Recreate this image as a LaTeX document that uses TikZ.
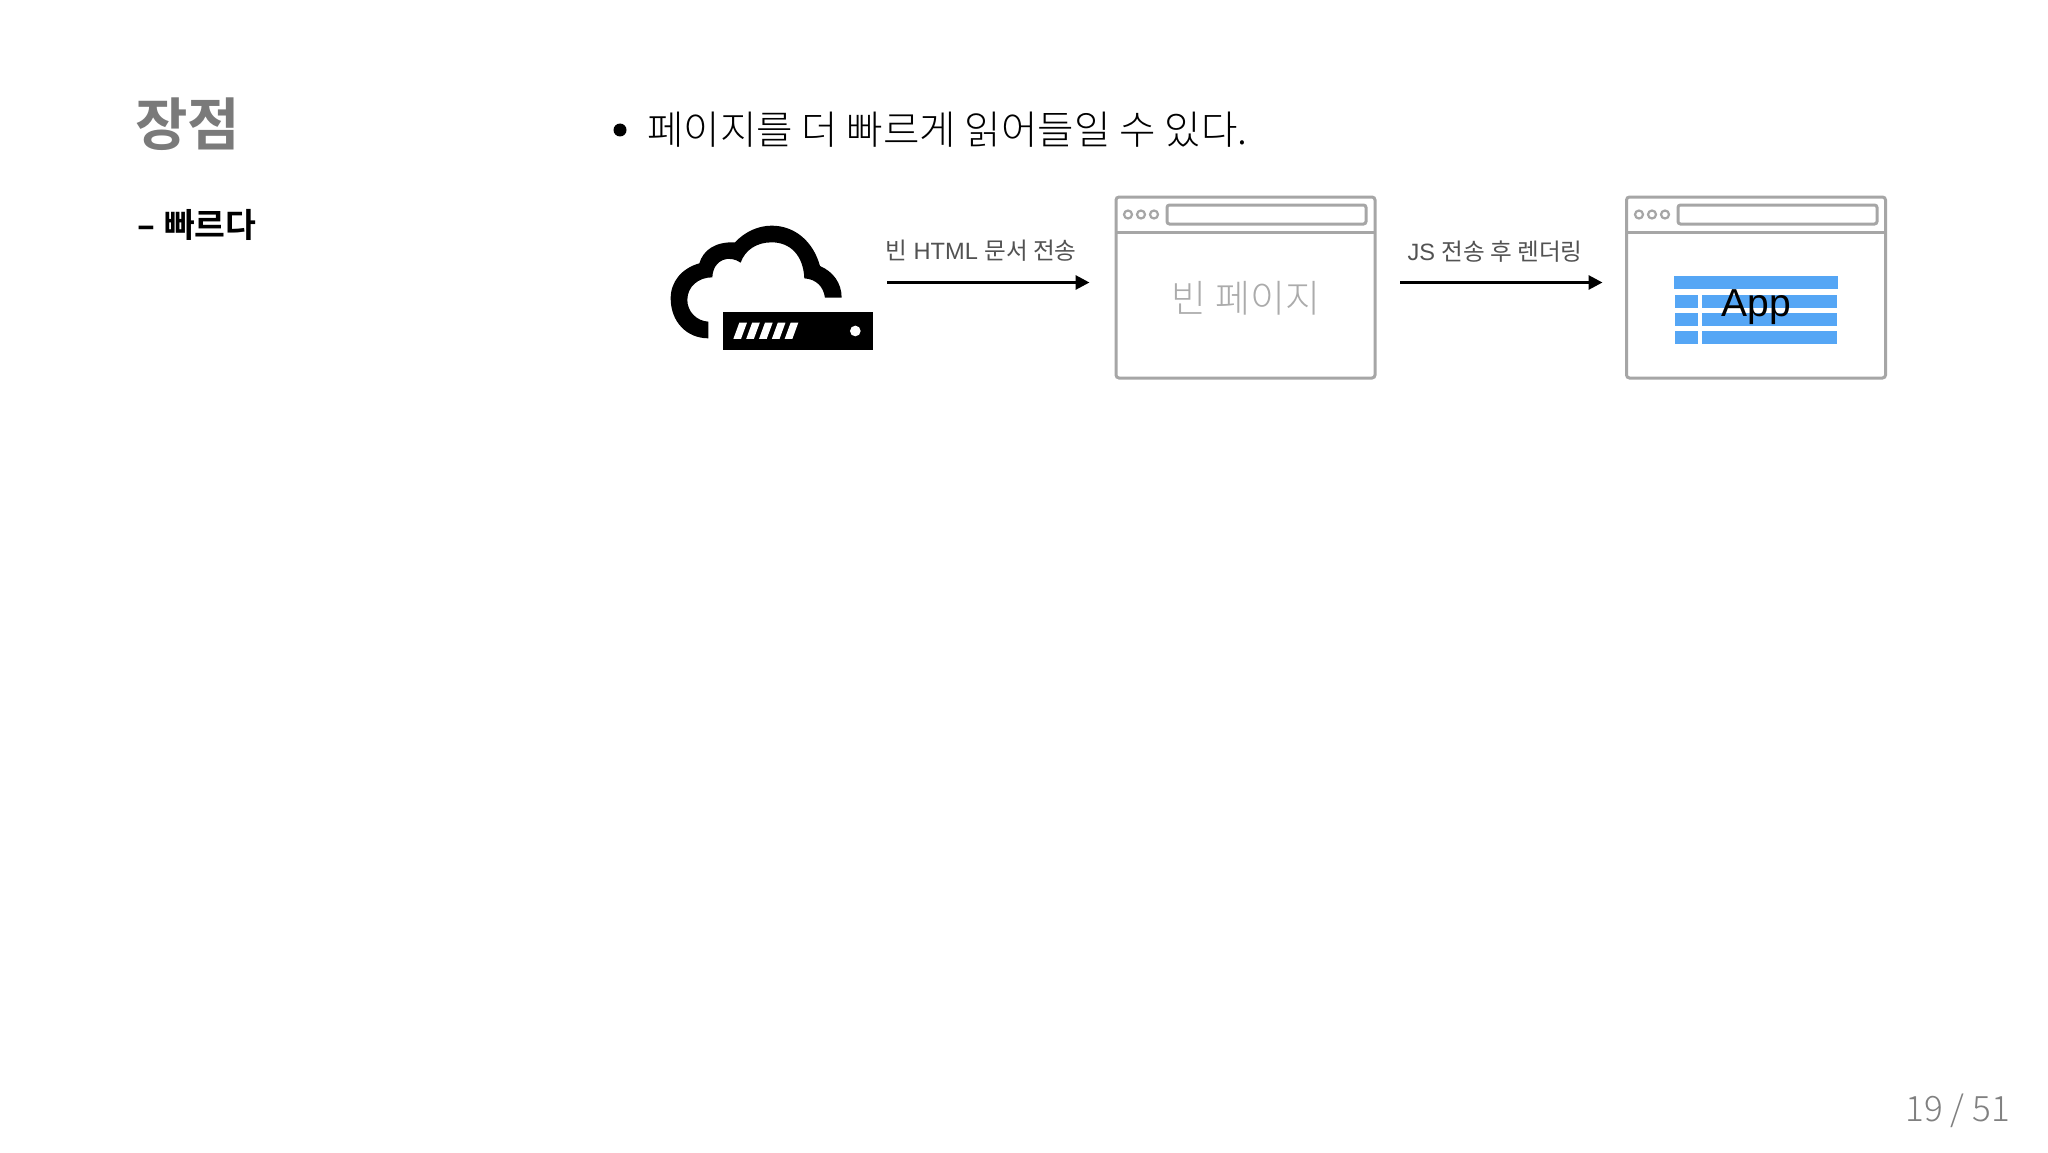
\documentclass[tikz,border=0pt]{standalone}
\usepackage{fontspec}
\usepackage{graphicx}
\usetikzlibrary{arrows.meta}
\newfontfamily\krreg{Noto Sans CJK KR}
\newfontfamily\krbold{Noto Sans CJK KR Bold}
\newfontfamily\krlight{Noto Sans CJK KR Light}
\setmainfont{Liberation Sans}
\definecolor{frame}{HTML}{A6A6A6}
\definecolor{appblue}{HTML}{55A6F5}
\tikzset{
  x=1pt,y=-1pt,
  browser/.style={draw=frame,line width=3pt,rounded corners=3pt,fill=white,inner sep=0pt,outer sep=0pt,minimum width=259pt,minimum height=181pt},
  bar/.style={draw=frame,line width=3pt,rounded corners=2.5pt},
  dotc/.style={draw=frame,line width=2.2pt},
  flow/.style={line width=3pt,-{Triangle[length=14pt,width=14pt]}},
  lbl/.style={inner sep=0pt,font=\fontsize{23.6}{26}\selectfont,text=black!68},
  blue/.style={fill=appblue,draw=none}
}
\newcommand{\browserchrome}[2]{%
  \draw[frame,line width=3pt] (#1.west |- 0,232) -- (#1.east |- 0,232);
  \draw[bar] (#2,205) rectangle ++(199,19);
  \foreach \dx in {-39,-26,-13}{\draw[dotc] (#2+\dx,214.5) circle[radius=4];}
}
\begin{document}
\begin{tikzpicture}
\useasboundingbox (0,0) rectangle (2048,1153);
\fill[white] (0,0) rectangle (2048,1153);
\node[anchor=center,inner sep=0pt,text=black!52,font=\krbold\fontsize{57}{60}\selectfont] (title) at (187.5,124.5) {장점};
\node[anchor=west,inner sep=0pt,font=\krbold\fontsize{33.5}{36}\selectfont] (sub) at (136,224.5) {\scalebox{1.6}[1]{-}\hspace{8pt}빠르다};
\fill (620,130) circle[radius=6.5];
\node[anchor=west,inner sep=0pt,font=\krlight\fontsize{39.6}{44}\selectfont] (lead) at (647,129.5) {페이지를 더 빠르게 읽어들일 수 있다.};
% cloud
\begin{scope}[shift={(650,190)},x=0.3333pt,y=-0.3333pt]
\fill (175,445) .. controls (110,445) and (62,395) .. (62,325)
 .. controls (62,275) and (95,235) .. (148,220)
 .. controls (160,180) and (195,155) .. (255,157)
 .. controls (285,125) and (325,107) .. (365,107)
 .. controls (435,107) and (490,155) .. (510,228)
 .. controls (550,245) and (575,280) .. (575,323)
 -- (525,323)
 .. controls (520,290) and (500,268) .. (463,265)
 .. controls (460,195) and (420,157) .. (365,157)
 .. controls (320,157) and (285,180) .. (272,218)
 .. controls (240,195) and (190,205) .. (187,262)
 .. controls (145,262) and (112,290) .. (112,330)
 .. controls (112,365) and (140,393) .. (175,395) -- cycle;
\fill (218,367) rectangle (668,480);
\foreach \k in {0,1,2,3,4}{
  \fill[white,xshift=\k*38.5*0.3333pt] (250,447) -- (268,398) -- (291,398) -- (273,447) -- cycle;
}
\fill[white] (616,423) circle[radius=16];
\end{scope}
% browsers
\node[browser] (b1) at (1245.5,287.5) {};
\browserchrome{b1}{1167}
\node[inner sep=0pt,text=black!33,font=\krlight\fontsize{38}{44}\selectfont] (empty) at (1246,298) {빈 페이지};
\node[browser] (b2) at (1756,287.5) {};
\browserchrome{b2}{1678}
\fill[blue] (1674,276) rectangle (1838,289);
\foreach \t in {295,313,331}{
  \fill[blue] (1675,\t) rectangle (1698,\t+13);
  \fill[blue] (1702,\t) rectangle (1837,\t+13);
}
\node[inner sep=0pt,anchor=base,font=\fontsize{39}{40}\selectfont] (app) at (1756,316) {App};
% arrows
\coordinate (a1s) at (887,282.5); \coordinate (a1e) at (1089.5,282.5);
\coordinate (a2s) at (1400,282.5); \coordinate (a2e) at (1602.5,282.5);
\draw[flow] (a1s) -- (a1e);
\draw[flow] (a2s) -- (a2e);
\node[lbl] (l1) at (981,250.5) {{\krreg 빈} HTML {\krreg 문서 전송}};
\node[lbl] (l2) at (1495,252) {JS {\krreg 전송 후 렌더링}};
\node[anchor=east,inner sep=0pt,text=black!50,font=\krlight\fontsize{35}{42}\selectfont] (page) at (2010,1110.5) {19 / 51};
\end{tikzpicture}
\end{document}
